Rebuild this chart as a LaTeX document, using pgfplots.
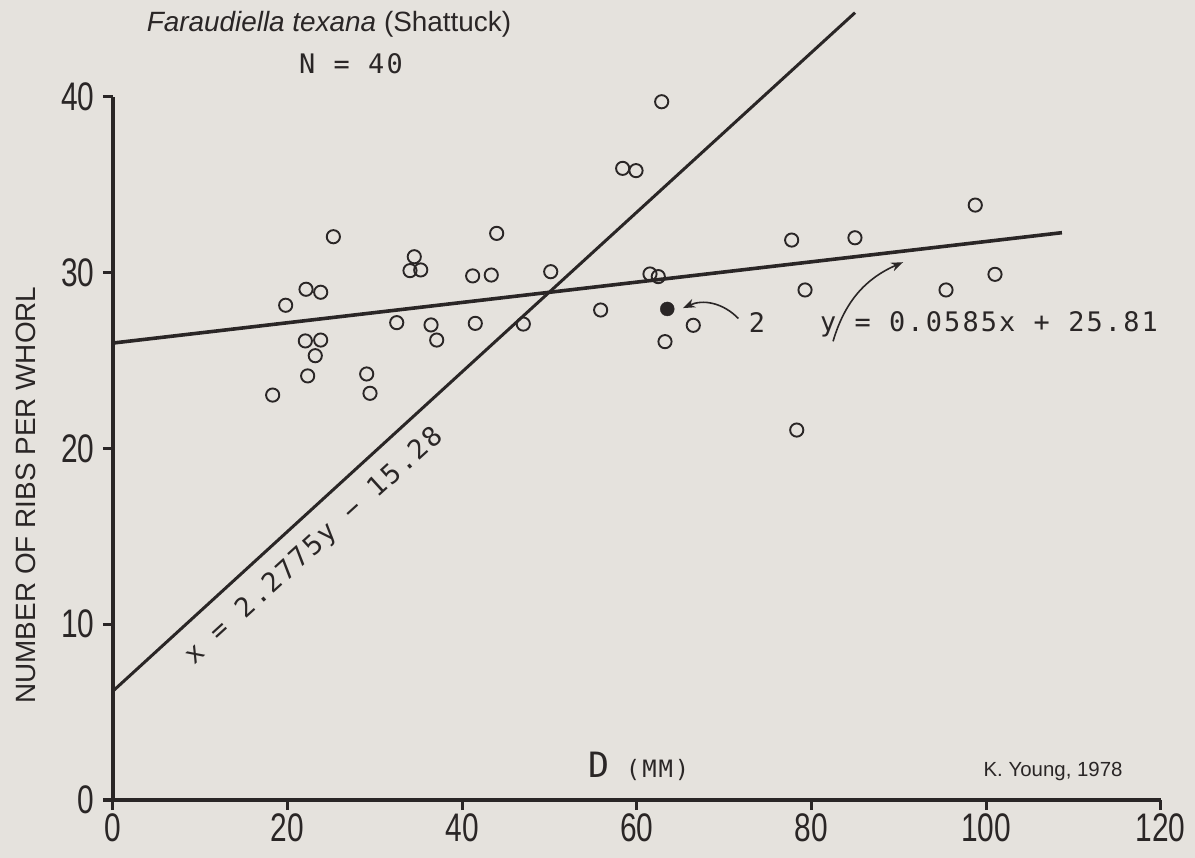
\documentclass[border=0pt]{standalone}
\usepackage{fontspec}
\setmainfont{Liberation Sans}
\newfontfamily\tickfont[FakeStretch=0.75]{Liberation Sans}
\newfontfamily\lettering[LetterSpace=8]{DejaVu Sans Mono}
\usepackage{pgfplots}
\pgfplotsset{compat=1.18}
\usetikzlibrary{arrows.meta}
\definecolor{paper}{RGB}{229,226,221}
\definecolor{ink}{RGB}{42,38,38}

\pgfplotstableread{
x y
25.24 32.05
43.95 32.24
34.51 30.91
34.02 30.12
35.25 30.16
41.20 29.82
43.33 29.87
22.11 29.06
23.79 28.89
19.78 28.15
32.50 27.16
36.43 27.03
37.08 26.17
41.50 27.12
47.00 27.08
22.03 26.12
23.79 26.17
23.17 25.28
22.30 24.13
29.06 24.24
29.44 23.14
18.29 23.04
62.85 39.73
58.38 35.94
59.91 35.81
50.14 30.06
61.51 29.93
62.46 29.78
55.86 27.88
66.47 27.01
63.23 26.08
77.74 31.86
84.99 31.99
98.77 33.85
79.27 29.02
95.42 29.02
101.03 29.91
78.32 21.05
}\openpts

\begin{document}
\begin{tikzpicture}
\fill[paper] (-113bp,-58bp) rectangle (1082bp,800bp);
\begin{axis}[
  at={(0,0)}, anchor=south west,
  x=8.73bp, y=17.575bp,
  xmin=0, xmax=120, ymin=0, ymax=40,
  axis lines*=left,
  axis line style={ink, line width=3.5bp},
  xtick={0,20,...,120}, ytick={0,10,...,40},
  tick align=outside,
  major tick length=10bp,
  tick style={ink, line width=3bp},
  /pgf/number format/assume math mode=true,
  ticklabel style={font=\tickfont\fontsize{40}{40}\selectfont, text=ink},
  yticklabel style={xshift=-5bp},
  clip=false,
]
% regression lines
\addplot[ink, line width=3.6bp] coordinates {(0,26.0) (108.7,32.28)};
\addplot[ink, line width=3bp] coordinates {(0,6.2) (85.0,44.8)};

% specimens
\addplot[only marks, color=ink, mark=o, mark size=6.6bp,
  mark options={line width=1.9bp}] table {\openpts};
\addplot[only marks, color=ink, mark=*, mark size=7bp] coordinates {(63.49,27.94)};

% text
\node[anchor=base, text=ink, font=\fontsize{28}{28}\selectfont] at (axis cs:24.74,43.7)
  {\textit{Faraudiella texana} (Shattuck)};
\node[text=ink, font=\lettering\fontsize{27}{27}\selectfont] at (axis cs:27.26,41.88) {N = 40};
\node[rotate=90, text=ink, font=\fontsize{28}{28}\selectfont] at (axis cs:-9.97,17.35)
  {NUMBER OF RIBS PER WHORL};
\node[text=ink, font=\lettering] at (axis cs:60.25,1.93)
  {{\fontsize{35}{35}\selectfont D}{\fontsize{24}{24}\selectfont\ (MM)}};
\node[anchor=base, text=ink, font=\fontsize{20.5}{20.5}\selectfont] at (axis cs:107.68,1.31)
  {K. Young, 1978};
\node[anchor=base, text=ink, font=\lettering\fontsize{27}{27}\selectfont] at (axis cs:100.34,26.63)
  {y = 0.0585x + 25.81};
\node[text=ink, font=\lettering\fontsize{27}{27}\selectfont] at (axis cs:73.77,27.14) {2};
\node[rotate=42.3, text=ink, font=\lettering\fontsize{27}{27}\selectfont] at (axis cs:23.08,14.42)
  {x = 2.2775y − 15.28};

% pointers
\draw[ink, line width=1.6bp, -{Stealth[length=12bp,width=9bp]}]
  (axis cs:71.63,27.4) to[bend right=35] (axis cs:65.3,27.99);
\draw[ink, line width=1.6bp, -{Stealth[length=12bp,width=9bp]}]
  (axis cs:82.48,26.1) to[bend left=25] (axis cs:90.5,30.6);
\end{axis}
\pgfresetboundingbox
\path[use as bounding box] (-113bp,-58bp) rectangle (1082bp,800bp);
\end{tikzpicture}
\end{document}
